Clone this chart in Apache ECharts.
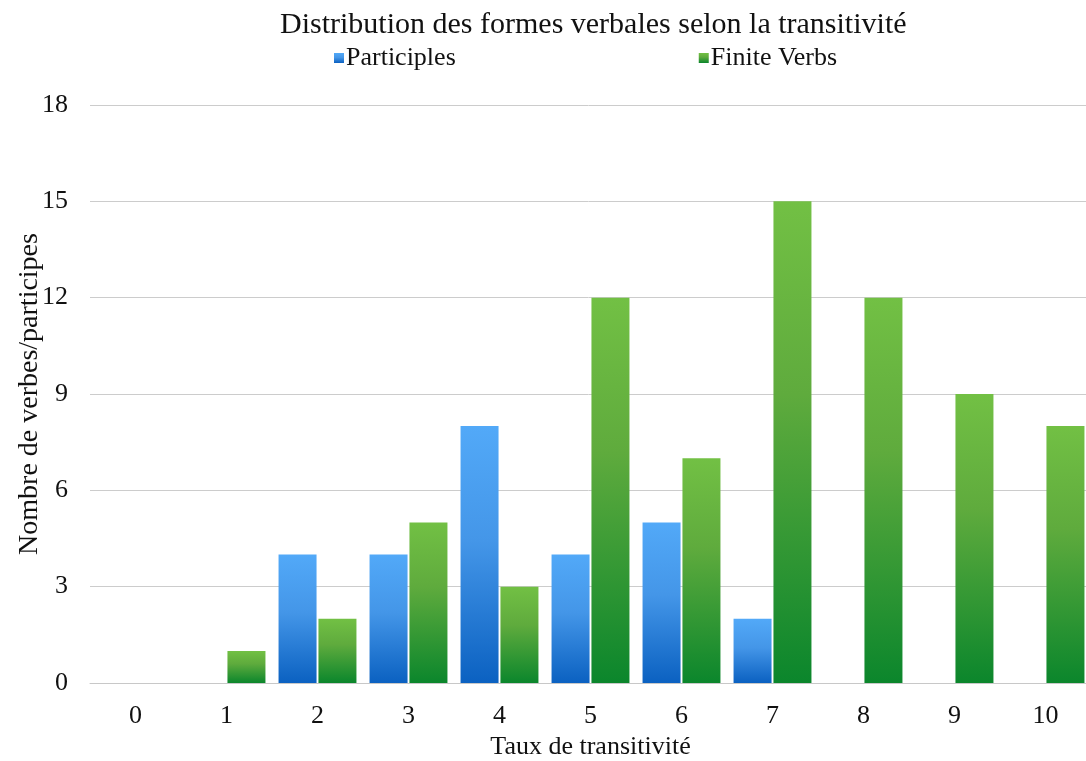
<!DOCTYPE html>
<html>
<head>
<meta charset="utf-8">
<script src="https://cdn.jsdelivr.net/npm/echarts@6/dist/echarts.min.js"></script>
<style>
  html, body { margin: 0; padding: 0; background: #fff; }
  #chart { width: 1086px; height: 761px; }
</style>
</head>
<body>
<div id="chart"></div>
<script>
var categories = ["0", "1", "2", "3", "4", "5", "6", "7", "8", "9", "10"];
var participles = [0, 0, 4, 4, 8, 4, 5, 2, 0, 0, 0];
var finiteVerbs = [0, 1, 2, 5, 3, 12, 7, 15, 12, 9, 8];

function blueGrad() {
  return new echarts.graphic.LinearGradient(0, 0, 0, 1, [
    { offset: 0, color: "#52a9f8" },
    { offset: 0.45, color: "#4496e8" },
    { offset: 1, color: "#0b61c1" }
  ]);
}
function greenGrad() {
  return new echarts.graphic.LinearGradient(0, 0, 0, 1, [
    { offset: 0, color: "#72c044" },
    { offset: 0.4, color: "#5fab3d" },
    { offset: 1, color: "#0b862c" }
  ]);
}

var chartDom = document.getElementById("chart");
var myChart = echarts.init(chartDom, null, { renderer: "canvas" });
var font = "Liberation Serif";

var option = {
  animation: false,
  textStyle: { fontFamily: font },
  title: {
    text: "Distribution des formes verbales selon la transitivité",
    left: 275,
    top: 5,
    textStyle: { fontFamily: font, fontSize: 30, fontWeight: "normal", color: "#111" }
  },
  legend: {
    left: 329,
    top: 40,
    itemWidth: 10,
    itemHeight: 10,
    itemGap: 243,
    icon: "rect",
    textStyle: { fontFamily: font, fontSize: 26, color: "#111", padding: [0, 0, 0, -3] },
    data: ["Participles", "Finite Verbs"]
  },
  grid: {
    left: 90,
    right: -5,
    top: 105,
    bottom: 78,
    outerBoundsMode: "none"
  },
  xAxis: {
    type: "category",
    data: categories,
    name: "Taux de transitivité",
    nameLocation: "middle",
    nameGap: 51,
    nameMoveOverlap: false,
    nameTextStyle: { fontFamily: font, fontSize: 26, color: "#111" },
    axisLine: { show: true, lineStyle: { color: "#c8c8c8", width: 1 } },
    axisTick: { show: false },
    axisLabel: { fontFamily: font, fontSize: 26, color: "#111", margin: 20 }
  },
  yAxis: {
    type: "value",
    min: 0,
    max: 18,
    interval: 3,
    name: "Nombre de verbes/participes",
    nameLocation: "middle",
    nameGap: 46,
    nameMoveOverlap: false,
    nameTextStyle: { fontFamily: font, fontSize: 28, color: "#111" },
    axisLine: { show: false },
    axisTick: { show: false },
    axisLabel: { fontFamily: font, fontSize: 26, color: "#111", margin: 22 },
    splitLine: { lineStyle: { color: "#cccccc", width: 1 } }
  },
  series: [
    {
      name: "Participles",
      type: "bar",
      data: participles,
      barWidth: 38,
      barGap: "5%",
      itemStyle: { color: blueGrad() }
    },
    {
      name: "Finite Verbs",
      type: "bar",
      data: finiteVerbs,
      barWidth: 38,
      barGap: "5%",
      itemStyle: { color: greenGrad() }
    }
  ]
};

option && myChart.setOption(option);
</script>
</body>
</html>
